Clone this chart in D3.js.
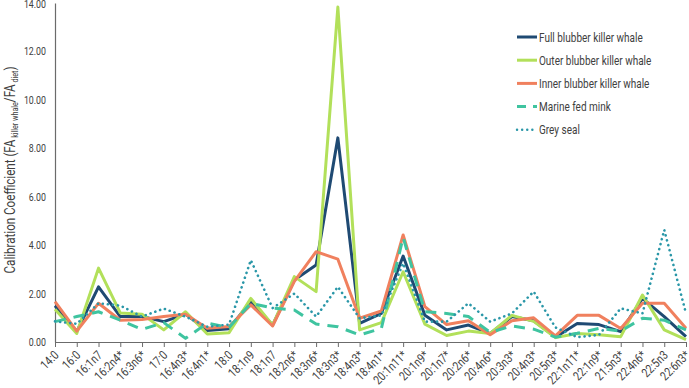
<!DOCTYPE html>
<html>
<head>
<meta charset="utf-8">
<script src="https://cdn.jsdelivr.net/npm/d3@7"></script>
<style>
  body { margin: 0; background: #fff; }
  svg { display: block; font-family: Roboto, "Noto Sans", sans-serif; }
</style>
</head>
<body>
<svg id="drawing_region"></svg>
<script>
const categories = ["14:0","16:0","16:1n7","16:2n4*","16:3n6*","17:0","16:4n3*","16:4n1*","18:0","18:1n9",
    "18:1n7","18:2n6*","18:3n6*","18:3n3*","18:4n3*","18:4n1*","20:1n11*","20:1n9*","20:1n7*","20:2n6*",
    "20:4n6*","20:3n3*","20:4n3*","20:5n3*","22:1n11*","22:1n9*","21:5n3*","22:4n6*","22:5n3","22:6n3*"];

const fullBlubber  = [1.5,0.43,2.28,1.05,1.05,0.84,1.15,0.47,0.55,1.67,0.7,2.56,3.18,8.43,0.77,1.18,3.55,1.1,0.5,0.7,0.35,1.05,0.88,0.2,0.76,0.72,0.43,1.8,1.05,0.22];
const outerBlubber = [1.35,0.35,3.05,1.2,1.15,0.5,1.25,0.33,0.38,1.8,0.7,2.7,2.08,13.83,0.5,0.8,2.9,0.74,0.27,0.45,0.35,1.1,0.85,0.18,0.35,0.3,0.22,1.94,0.5,0.1];
const innerBlubber = [1.67,0.45,1.6,0.9,0.93,1.05,1.15,0.57,0.64,1.53,0.66,2.5,3.73,3.42,0.98,1.28,4.42,1.46,0.72,0.88,0.3,0.88,1.0,0.25,1.1,1.1,0.56,1.6,1.6,0.57];
const marineMink   = [0.84,1.05,1.25,0.9,0.52,0.8,0.15,0.78,0.6,1.6,1.4,1.32,0.74,0.63,0.29,0.56,4.32,1.25,1.18,1.05,0.4,0.66,0.53,0.2,0.36,0.56,0.45,0.98,0.9,0.5];
const greySeal     = [0.85,0.75,1.6,1.5,1.05,1.38,1.05,0.63,0.72,3.38,1.4,2.0,1.05,2.28,0.98,1.1,3.25,0.84,0.84,1.6,0.84,1.18,2.08,0.6,0.2,0.29,1.39,1.18,4.63,1.18];

const yTicks = [0,2,4,6,8,10,12,14];

const series = [
    { name: "Full blubber killer whale",  values: fullBlubber,  color: "#1f4a73", dash: null },
    { name: "Outer blubber killer whale", values: outerBlubber, color: "#b2e05a", dash: null },
    { name: "Inner blubber killer whale", values: innerBlubber, color: "#f0805e", dash: null },
    { name: "Marine fed mink",            values: marineMink,   color: "#3fc4a0", dash: "11,8" },
    { name: "Grey seal",                  values: greySeal,     color: "#2a97a8", dash: "0.1,5" }
];

const W = 689, H = 388;
const margin = { left: 55, right: 686, top: 3, bottom: 342 };
const squeeze = 0.8;   // narrow look of the original font
const textColor = "#404040";

const svg = d3.select('#drawing_region')
    .attr('width', W)
    .attr('height', H);

const xscale = d3.scalePoint()
    .domain(categories)
    .range([margin.left, margin.right]);

const yscale = d3.scaleLinear()
    .domain([0, 14])
    .range([margin.bottom, margin.top]);

// y axis
const yaxis = d3.axisLeft(yscale)
    .tickValues(yTicks)
    .tickSize(0)
    .tickPadding(0)
    .tickFormat(d3.format(".2f"));

const yg = svg.append('g')
    .attr('transform', `translate(${margin.left}, 0)`)
    .call(yaxis);
yg.select('.domain').attr('stroke', '#6b6b6b').attr('stroke-width', 1.2);
yg.selectAll('.tick').attr('transform', null);
yg.selectAll('text')
    .attr('x', null)
    .attr('dy', null)
    .attr('transform', d => `translate(-9, ${Math.max(yscale(d) + 4, 8)}) scale(${squeeze},1)`)
    .attr('font-size', 11)
    .attr('font-family', 'Roboto')
    .attr('fill', textColor);

// x axis
const xaxis = d3.axisBottom(xscale)
    .tickSizeInner(5)
    .tickSizeOuter(0);

const xg = svg.append('g')
    .attr('transform', `translate(0, ${margin.bottom})`)
    .call(xaxis);
xg.select('.domain').attr('stroke', '#6b6b6b').attr('stroke-width', 1.2);
xg.selectAll('.tick line').attr('stroke', '#6b6b6b');
xg.selectAll('text')
    .attr('y', null)
    .attr('dy', null)
    .attr('text-anchor', 'end')
    .attr('transform', `translate(4, 14) rotate(-45) scale(0.82,1)`)
    .attr('font-size', 12.5)
    .attr('font-family', 'Roboto')
    .attr('fill', textColor);

// lines
const line = d3.line()
    .x((d, i) => xscale(categories[i]))
    .y(d => yscale(d));

svg.append('g')
    .selectAll('path')
    .data(series)
    .join('path')
    .attr('d', d => line(d.values))
    .attr('fill', 'none')
    .attr('stroke', d => d.color)
    .attr('stroke-width', d => d.dash === "0.1,5" ? 2.6 : 3)
    .attr('stroke-dasharray', d => d.dash)
    .attr('stroke-linecap', d => d.dash === "0.1,5" ? 'round' : 'butt')
    .attr('stroke-linejoin', 'round');

// legend
const legend = svg.append('g')
    .attr('transform', 'translate(517, 37)');

const rows = legend.selectAll('g')
    .data(series)
    .join('g')
    .attr('transform', (d, i) => `translate(0, ${i * 23.2})`);

rows.append('line')
    .attr('x1', 0).attr('x2', 20)
    .attr('y1', 0).attr('y2', 0)
    .attr('stroke', d => d.color)
    .attr('stroke-width', d => d.dash === "0.1,5" ? 2.4 : 3)
    .attr('stroke-dasharray', d => d.dash === "11,8" ? "9,7" : d.dash)
    .attr('stroke-linecap', d => d.dash === "0.1,5" ? 'round' : 'butt');

rows.append('text')
    .attr('transform', `translate(22, 4.5) scale(${squeeze},1)`)
    .attr('font-size', 12.5)
    .attr('fill', textColor)
    .text(d => d.name);

// y axis title
const ytitle = svg.append('text')
    .attr('transform', `translate(15, 170) rotate(-90) scale(${squeeze},1)`)
    .attr('text-anchor', 'middle')
    .attr('font-size', 14.5)
    .attr('fill', textColor);
ytitle.append('tspan').text('Calibration Coefficient (FA');
ytitle.append('tspan').attr('font-size', 9).attr('dy', 3).text(' killer whale');
ytitle.append('tspan').attr('dy', -3).text('/FA');
ytitle.append('tspan').attr('font-size', 9).attr('dy', 3).text(' diet');
ytitle.append('tspan').attr('dy', -3).text(')');
</script>
</body>
</html>
